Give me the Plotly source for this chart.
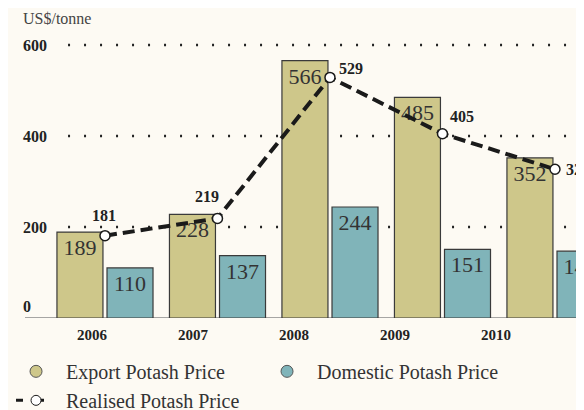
import plotly.graph_objects as go

years = ["2006", "2007", "2008", "2009", "2010"]
export_price = [189, 228, 566, 485, 352]
domestic_price = [110, 137, 244, 151, 147]
realised_price = [181, 219, 529, 405, 327]
y_ticks = [0, 200, 400, 600]

xs = list(range(len(years)))
serif = "Liberation Serif"
bg = "#FDFAF3"
khaki = "#CEC78A"
teal = "#80B4B9"
nb = "\u00a0"

fig = go.Figure()

# bars (legend handled by dummy circle traces below)
fig.add_trace(go.Bar(
    x=xs, y=export_price, offset=-0.427, width=0.409,
    marker=dict(color=khaki, line=dict(color="#3a3a3a", width=1.2)),
    text=[str(v) for v in export_price], textposition="inside",
    insidetextanchor="end", textangle=0, constraintext="none",
    textfont=dict(family=serif, size=22, color="#333"),
    showlegend=False, hoverinfo="skip"))
fig.add_trace(go.Bar(
    x=xs, y=domestic_price, offset=0.018, width=0.409,
    marker=dict(color=teal, line=dict(color="#3a3a3a", width=1.2)),
    text=[str(v) for v in domestic_price], textposition="inside",
    insidetextanchor="end", textangle=0, constraintext="none",
    textfont=dict(family=serif, size=22, color="#333"),
    showlegend=False, hoverinfo="skip"))

# realised price line
fig.add_trace(go.Scatter(
    x=xs, y=realised_price, mode="lines+markers", showlegend=False,
    line=dict(color="#1a1a1a", width=4, dash="12px,6px"),
    marker=dict(symbol="circle", size=10, color="white", line=dict(color="#1a1a1a", width=1.5)),
    hoverinfo="skip"))

# legend entries
fig.add_trace(go.Scatter(x=[None], y=[None], mode="markers", name=nb + "Export Potash Price",
                         marker=dict(symbol="circle", size=12, color=khaki,
                                     line=dict(color="#555", width=1))))
fig.add_trace(go.Scatter(x=[None], y=[None], mode="markers", name=nb + "Domestic Potash Price",
                         marker=dict(symbol="circle", size=12, color=teal,
                                     line=dict(color="#555", width=1))))
fig.add_trace(go.Scatter(x=[None], y=[None], mode="lines+markers", name=nb + "Realised Potash Price",
                         line=dict(color="#1a1a1a", width=3, dash="7px,11px,10px,100px"),
                         marker=dict(symbol="circle", size=10, color="white",
                                     line=dict(color="#1a1a1a", width=1))))

# invisible trace to carry the year-label axis
fig.add_trace(go.Scatter(x=[None], y=[None], xaxis="x2", showlegend=False, hoverinfo="skip"))

shapes = []
for v in y_ticks[1:]:
    shapes.append(dict(type="line", xref="paper", yref="y", x0=0.077, x1=1, y0=v, y1=v,
                       line=dict(color="#222", width=2.5, dash="2px,14px"), layer="below"))
shapes.append(dict(type="line", xref="paper", yref="y", x0=0, x1=1, y0=0, y1=0,
                   line=dict(color="#888", width=1.5), layer="below"))

annotations = []
for v in y_ticks:
    annotations.append(dict(x=0, xref="paper", y=v, yref="y", text=f"<b>{v}</b>",
                            showarrow=False, xanchor="left", xshift=-4,
                            yanchor="bottom" if v == 0 else "middle",
                            yshift=1 if v == 0 else 0,
                            font=dict(family=serif, size=16, color="#222")))
annotations.append(dict(x=0, xref="paper", y=1, yref="paper", yshift=18, xshift=-4,
                        text="US$/tonne", showarrow=False, xanchor="left", yanchor="middle",
                        font=dict(family=serif, size=16, color="#444")))

# labels for the realised line
label_shift = [(-1, 20, "center"), (-10, 22, "center"), (21, 9, "center"),
               (20, 17, "center"), (9, 0, "left")]
for x, v, (dx, dy, anc) in zip(xs, realised_price, label_shift):
    annotations.append(dict(x=x, y=v, xref="x", yref="y", text=f"<b>{v}</b>",
                            showarrow=False, xanchor=anc, yanchor="middle",
                            xshift=dx, yshift=dy,
                            font=dict(family=serif, size=16, color="#222")))

fig.update_layout(
    width=576, height=402,
    margin=dict(l=17, r=0, t=28, b=92, autoexpand=False),
    paper_bgcolor=bg, plot_bgcolor=bg,
    barmode="overlay",
    xaxis=dict(range=[-0.711, 4.258], showticklabels=False, showgrid=False,
               zeroline=False, showline=False, ticks=""),
    xaxis2=dict(overlaying="x", anchor="y", side="bottom", range=[-0.663, 4.871],
                tickmode="array", tickvals=xs, ticktext=[f"<b>{y}</b>" for y in years],
                tickfont=dict(family=serif, size=15, color="#222"),
                showgrid=False, zeroline=False, showline=False, ticks="",
                ticklabelstandoff=6),
    yaxis=dict(range=[0, 620], showticklabels=False, showgrid=False, zeroline=False,
               showline=False, ticks=""),
    shapes=shapes,
    annotations=annotations,
    showlegend=True,
    legend=dict(orientation="h", x=-0.025, xanchor="left", y=-0.12, yanchor="top",
                entrywidth=196, entrywidthmode="pixels", itemwidth=40,
                font=dict(family=serif, size=20, color="#333"),
                bgcolor="rgba(0,0,0,0)"),
    font=dict(family=serif),
)

fig.write_html("out.html")
